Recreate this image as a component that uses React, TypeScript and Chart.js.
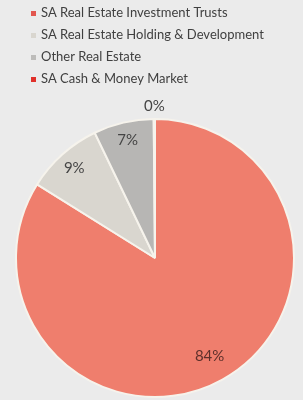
import React, { useEffect, useRef } from "react";
import { Chart, registerables } from "chart.js";

Chart.register(...registerables);

const categories = [
  "SA Real Estate Investment Trusts",
  "SA Real Estate Holding & Development",
  "Other Real Estate",
  "SA Cash & Money Market",
];
const values = [84, 9, 7, 0.15];
const valueLabels = ["84%", "9%", "7%", "0%"];
const sliceColors = ["#ef7e6d", "#d9d6cf", "#b7b6b4", "#e5574a"];
const legendColors = ["#e2574f", "#d9d6cf", "#bdbcba", "#e0302a"];

const FONT = "Lato, 'Open Sans', sans-serif";

const bgPlugin = {
  id: "bg",
  beforeDraw(chart: any) {
    const { ctx, width, height } = chart;
    ctx.save();
    ctx.fillStyle = "#ebebeb";
    ctx.fillRect(0, 0, width, height);
    ctx.restore();
  },
};

const legendPlugin = {
  id: "vlegend",
  afterDraw(chart: any) {
    const { ctx } = chart;
    ctx.save();
    ctx.font = `13px ${FONT}`;
    ctx.textBaseline = "middle";
    ctx.textAlign = "left";
    categories.forEach((c, i) => {
      const y = 13 + i * 22;
      ctx.fillStyle = legendColors[i];
      ctx.fillRect(31, y - 2, 5, 5);
      ctx.fillStyle = "#404040";
      ctx.fillText(c, 41, y);
    });
    ctx.restore();
  },
};

const labelPlugin = {
  id: "slabels",
  afterDatasetsDraw(chart: any) {
    const { ctx } = chart;
    const meta = chart.getDatasetMeta(0);
    ctx.save();
    ctx.font = `15px ${FONT}`;
    ctx.textAlign = "center";
    ctx.textBaseline = "middle";
    meta.data.forEach((arc: any, i: number) => {
      const { x, y, startAngle, endAngle, outerRadius } = arc.getProps(
        ["x", "y", "startAngle", "endAngle", "outerRadius"],
        true
      );
      const mid = (startAngle + endAngle) / 2;
      const isZero = values[i] < 1;
      const r = isZero ? outerRadius * 1.09 : outerRadius * (i === 0 ? 0.81 : 0.87);
      ctx.fillStyle = i === 0 ? "#5e302b" : "#454545";
      ctx.fillText(valueLabels[i], x + Math.cos(mid) * r, y + Math.sin(mid) * r);
    });
    ctx.restore();
  },
};

export default function App() {
  const ref = useRef<HTMLCanvasElement>(null);
  useEffect(() => {
    document.body.style.margin = "0";
    const chart = new Chart(ref.current!, {
      type: "pie",
      data: {
        labels: categories,
        datasets: [
          {
            data: values,
            backgroundColor: sliceColors,
            borderColor: "#f6f3ec",
            borderWidth: 2,
          },
        ],
      },
      options: {
        responsive: false,
        animation: false,
        layout: { padding: { top: 118, bottom: 2, left: 15, right: 8 } },
        plugins: {
          legend: { display: false },
          tooltip: { enabled: false },
        },
      },
      plugins: [bgPlugin, legendPlugin, labelPlugin],
    });
    return () => chart.destroy();
  }, []);
  return <canvas ref={ref} width={303} height={400} style={{ display: "block" }} />;
}
